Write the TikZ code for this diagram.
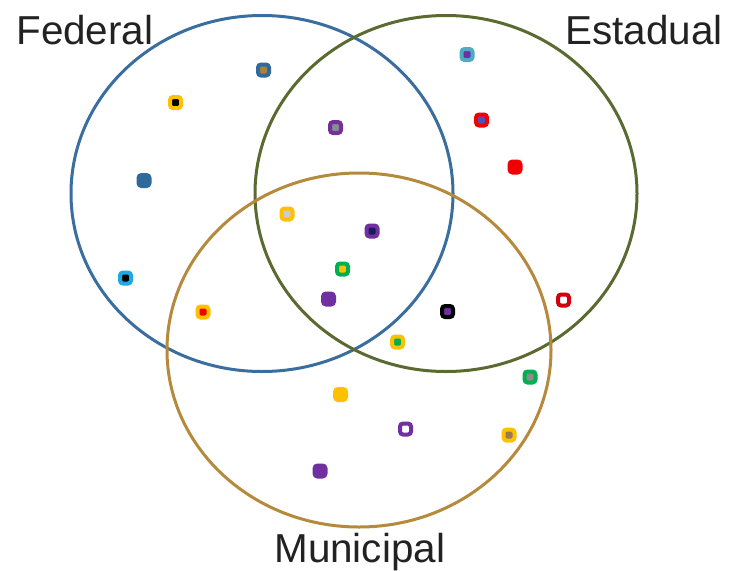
\documentclass[tikz,border=0pt]{standalone}
\usepackage{fontspec}
\setmainfont{Liberation Sans}
\usepackage{tikz}
\usetikzlibrary{shapes.geometric}
\definecolor{fedblue}{HTML}{3A6E9E}
\definecolor{estgreen}{HTML}{5A6A30}
\definecolor{munbrown}{HTML}{B58A3C}
\definecolor{chipblue}{HTML}{2E6A9C}
\definecolor{chipbrown}{HTML}{B08038}
\definecolor{chipyellow}{HTML}{FFC000}
\definecolor{chipcyan}{HTML}{1AAAE6}
\definecolor{chipred}{HTML}{F00000}
\definecolor{chipdred}{HTML}{D00010}
\definecolor{chippurple}{HTML}{7030A0}
\definecolor{chipteal}{HTML}{4BACC6}
\definecolor{chipgrey}{HTML}{8C8C8C}
\definecolor{chiplgrey}{HTML}{CCCCCC}
\definecolor{chipnavy}{HTML}{1C1C5C}
\definecolor{chipgreen}{HTML}{00B050}
\definecolor{chipindigo}{HTML}{5050C0}
\definecolor{chiptan}{HTML}{9C7A50}
\definecolor{txtgrey}{HTML}{222222}
\tikzset{
    venn/.style={ellipse,line width=0.06cm,inner sep=0pt,minimum width=7.64cm,minimum height=7.12cm},
    chip/.style 2 args={rectangle,draw=#1,fill=#2,line width=0.08cm,inner sep=0pt,minimum size=0.22cm,rounded corners=0.06cm},
    lbl/.style={anchor=base west,inner sep=0pt,text=txtgrey,font=\fontsize{23}{28}\selectfont}
}

\begin{document}
\begin{tikzpicture}[]
    \useasboundingbox[fill=white] (0,0) rectangle (14.58,-11.4);
    \node[venn,draw=fedblue] at (5.24,-3.87) (federal) {};
    \node[venn,draw=estgreen] at (8.92,-3.87) (estadual) {};
    \node[venn,draw=munbrown,minimum width=7.68cm,minimum height=7.08cm] at (7.18,-7.0) (municipal) {};
    \node[lbl] at (0.32,-0.88) (federal-lbl) {Federal};
    \node[lbl] at (11.3,-0.88) (estadual-lbl) {Estadual};
    \node[lbl] at (5.48,-11.24) (municipal-lbl) {Municipal};
    \node[chip={chipblue}{chipbrown}] at (5.27,-1.40) (c01) {};
    \node[chip={chipyellow}{black}] at (3.51,-2.05) (c02) {};
    \node[chip={chipblue}{chipblue}] at (2.88,-3.61) (c03) {};
    \node[chip={chipcyan}{black}] at (2.51,-5.56) (c04) {};
    \node[chip={chipyellow}{chipred}] at (4.06,-6.24) (c05) {};
    \node[chip={chippurple}{chipgrey}] at (6.71,-2.55) (c06) {};
    \node[chip={chipteal}{chippurple}] at (9.34,-1.09) (c07) {};
    \node[chip={chipred}{chipindigo}] at (9.63,-2.40) (c08) {};
    \node[chip={chipred}{chipred}] at (10.30,-3.34) (c09) {};
    \node[chip={chipyellow}{chiplgrey}] at (5.74,-4.28) (c10) {};
    \node[chip={chippurple}{chipnavy}] at (7.44,-4.62) (c11) {};
    \node[chip={chipgreen}{chipyellow}] at (6.85,-5.38) (c12) {};
    \node[chip={chippurple}{chippurple}] at (6.57,-5.98) (c13) {};
    \node[chip={black}{chippurple}] at (8.95,-6.23) (c14) {};
    \node[chip={chipyellow}{chipgreen}] at (7.95,-6.84) (c15) {};
    \node[chip={chipdred}{white}] at (11.27,-6.00) (c16) {};
    \node[chip={chipgreen}{chipgrey}] at (10.60,-7.54) (c17) {};
    \node[chip={chipyellow}{chipyellow}] at (6.81,-7.89) (c18) {};
    \node[chip={chippurple}{white}] at (8.11,-8.58) (c19) {};
    \node[chip={chipyellow}{chiptan}] at (10.18,-8.70) (c20) {};
    \node[chip={chippurple}{chippurple}] at (6.40,-9.42) (c21) {};
\end{tikzpicture}
\end{document}
